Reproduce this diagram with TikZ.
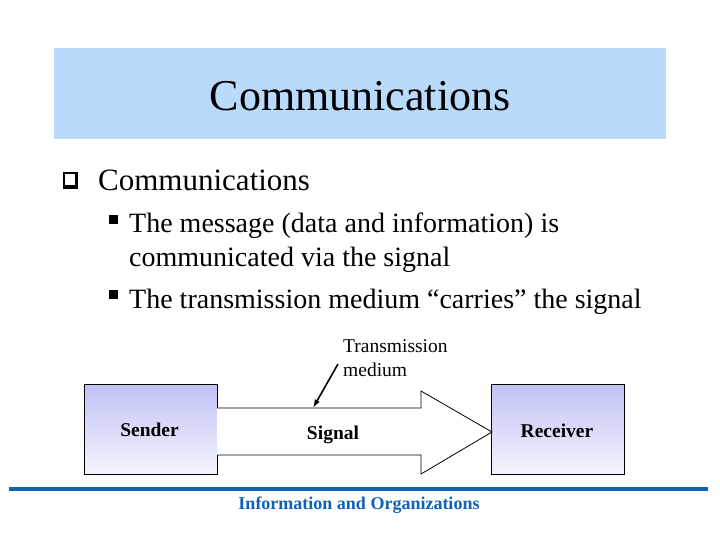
\documentclass[tikz,border=0pt]{standalone}
\usepackage{fontspec}
\setmainfont{Liberation Serif}
\usepackage{tikz}
\usetikzlibrary{positioning,arrows.meta}
\definecolor{bannerblue}{RGB}{185,218,250}
\definecolor{footblue}{RGB}{16,98,184}
\definecolor{boxtop}{RGB}{192,194,246}
\definecolor{boxbot}{RGB}{244,244,253}
\tikzset{
  pointer/.style={-{Latex[length=3mm,width=2mm]}, line width=1.6pt},
  endbox/.style={draw, line width=0.8pt, top color=boxtop, bottom color=boxbot, minimum width=133pt, minimum height=90pt, inner sep=0pt},
  boldlabel/.style={font=\fontsize{19.5}{22}\selectfont\bfseries, inner sep=0pt},
  bodytext/.style={anchor=base west, inner sep=0pt, font=\fontsize{28}{33}\selectfont},
  bigarrow/.style={draw, line width=0.8pt, fill=white, line join=miter}
}

\begin{document}
\begin{tikzpicture}[x=1pt, y=-1pt]
  \useasboundingbox (0,0) rectangle (720,540);
  \fill[white] (0,0) rectangle (720,540);
  % title banner
  \fill[bannerblue] (54,48) rectangle (666,139);
  \node[anchor=base, inner sep=0pt, font=\fontsize{44}{50}\selectfont] (title) at (360,111) {Communications};
  % bullets
  \fill[black] (63,172) rectangle (78,189);
  \fill[white] (64.8,173.8) rectangle (74.5,185.5);
  \node[anchor=base west, inner sep=0pt, font=\fontsize{31}{36}\selectfont] (head) at (98,191) {Communications};
  \fill[black] (109,215) rectangle (118,224);
  \node[bodytext] (msg1) at (129,233) {The message (data and information) is};
  \node[bodytext] (msg2) at (129,266) {communicated via the signal};
  \fill[black] (109,290) rectangle (118,299);
  \node[bodytext] (medline) at (129,308) {The transmission medium “carries” the signal};
  % diagram
  \node[endbox] (sender) at (150.5,429) {};
  \node[endbox] (receiver) at (557.5,429) {};
  \node[boldlabel, anchor=base] at (149.5,436) {Sender};
  \node[boldlabel, anchor=base] at (557,437) {Receiver};
  \draw[bigarrow] (217,408) -- (421,408) -- (421,391) -- (492,432) -- (421,474) -- (421,455) -- (217,455);
  \node[boldlabel, anchor=base] (signal) at (333,439) {Signal};
  \node[anchor=north west, align=left, inner sep=0pt, font=\fontsize{19.5}{24.5}\selectfont] (tmlabel) at (343,339) {Transmission\\medium};
  \coordinate (tmtail) at (338,364);
  \coordinate (tmfoot) at (313,408);
  \draw[pointer] (tmtail) -- (tmfoot);
  % footer
  \draw[footblue, line width=4pt] (9,489) -- (708,489);
  \node[anchor=base, inner sep=0pt, text=footblue, font=\fontsize{18}{20}\selectfont\bfseries] (footer) at (359,509) {Information and Organizations};
\end{tikzpicture}
\end{document}
